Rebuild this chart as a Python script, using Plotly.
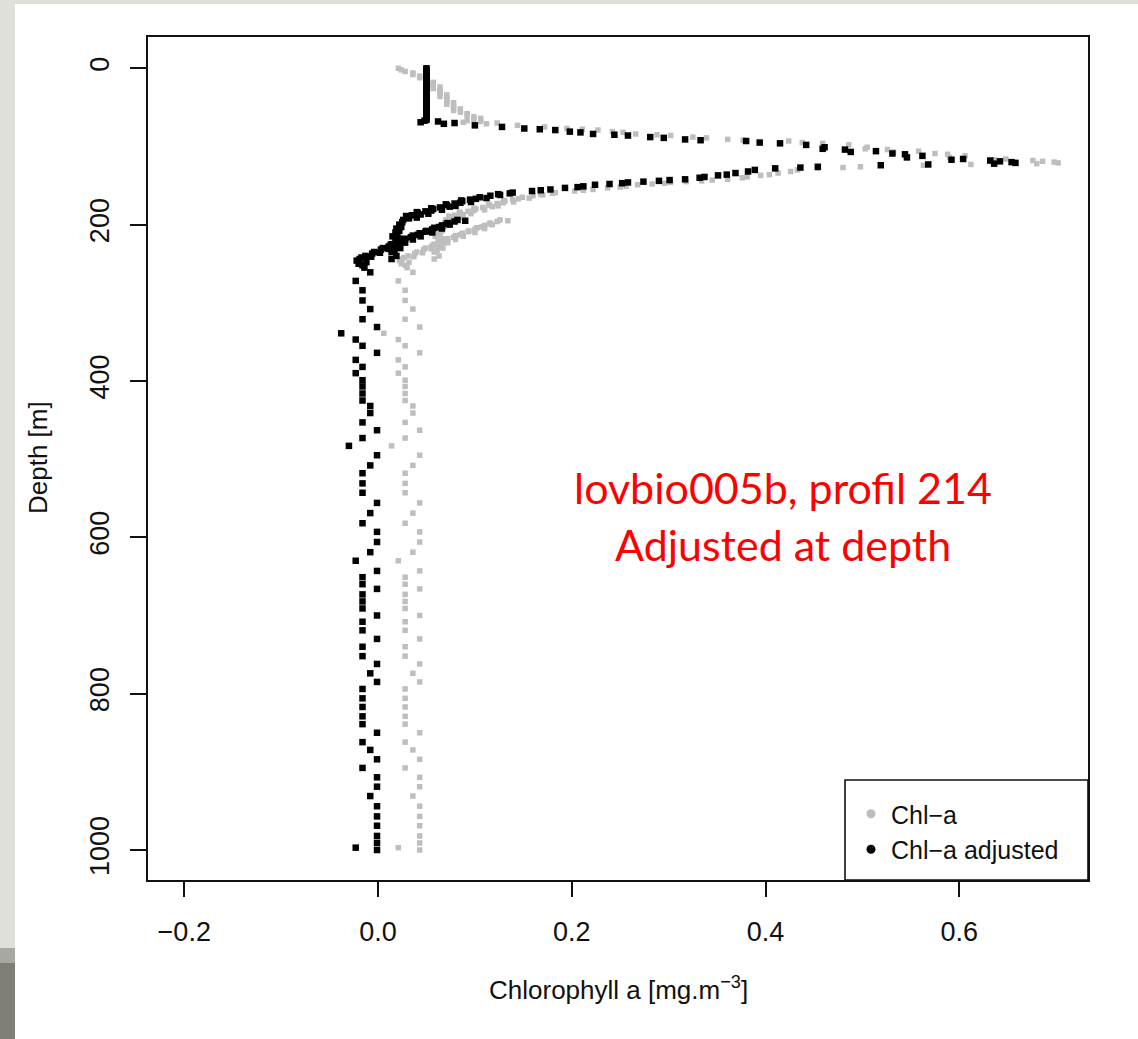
import plotly.graph_objects as go

# ---- Float lovbio005b, profile 214: Chl-a (raw) and Chl-a adjusted at depth ----
# Mixed layer (0-69 m)
depth_mixed = [0, 2, 4, 6, 8, 10, 12, 14, 16, 18, 20, 22, 24, 26, 28, 30, 32, 34, 36, 38,
               40, 42, 44, 46, 48, 50, 52, 54, 56, 58, 60, 62, 64, 66, 67, 68, 69]
chla_mixed = [0.021, 0.024, 0.028, 0.036, 0.036, 0.043, 0.043, 0.050, 0.050, 0.057,
              0.057, 0.057, 0.064, 0.057, 0.064, 0.064, 0.064, 0.071, 0.064, 0.071,
              0.071, 0.071, 0.078, 0.071, 0.078, 0.078, 0.085, 0.078, 0.085, 0.092,
              0.092, 0.099, 0.106, 0.099, 0.092, 0.106, 0.088]
adj_mixed = [0.050, 0.050, 0.050, 0.050, 0.050, 0.050, 0.050, 0.050, 0.050, 0.050,
             0.050, 0.050, 0.050, 0.050, 0.050, 0.050, 0.050, 0.050, 0.050, 0.050,
             0.050, 0.050, 0.050, 0.050, 0.050, 0.050, 0.050, 0.050, 0.050, 0.050,
             0.050, 0.050, 0.050, 0.050, 0.048, 0.062, 0.044]

# Deep chlorophyll maximum (70-163 m)
depth_dcm = [70, 71, 73, 75, 77, 78, 79, 81, 82, 84, 85, 86, 88, 89, 91, 92, 93, 95, 96, 98,
             101, 103, 104, 106, 107, 109, 110, 112, 114, 116, 117, 118, 119, 120, 121, 122,
             123, 124, 126, 127, 128, 130, 132, 134, 136, 137, 139, 140, 142, 143, 144, 145,
             146, 147, 148, 149, 151, 152, 153, 155, 156, 157, 159, 160, 161, 162, 163]
chla_dcm = [0.123, 0.112, 0.144, 0.172, 0.195, 0.211, 0.227, 0.242, 0.253, 0.266,
            0.288, 0.302, 0.325, 0.339, 0.361, 0.377, 0.424, 0.438, 0.459, 0.486,
            0.505, 0.503, 0.526, 0.558, 0.532, 0.575, 0.588, 0.606, 0.590, 0.648,
            0.636, 0.676, 0.686, 0.698, 0.702, 0.680, 0.612, 0.563, 0.498, 0.480,
            0.454, 0.433, 0.426, 0.413, 0.404, 0.395, 0.381, 0.376, 0.361, 0.345,
            0.334, 0.318, 0.302, 0.296, 0.283, 0.268, 0.256, 0.250, 0.237, 0.222,
            0.212, 0.203, 0.183, 0.180, 0.168, 0.170, 0.160]
adj_dcm = [0.079, 0.068, 0.100, 0.128, 0.151, 0.167, 0.183, 0.198, 0.209, 0.222,
           0.244, 0.258, 0.281, 0.295, 0.317, 0.333, 0.380, 0.394, 0.415, 0.442,
           0.461, 0.459, 0.482, 0.514, 0.488, 0.531, 0.544, 0.562, 0.546, 0.604,
           0.592, 0.632, 0.642, 0.654, 0.658, 0.636, 0.568, 0.519, 0.454, 0.436,
           0.410, 0.389, 0.382, 0.369, 0.360, 0.351, 0.337, 0.332, 0.317, 0.301,
           0.290, 0.274, 0.258, 0.252, 0.239, 0.224, 0.212, 0.206, 0.193, 0.178,
           0.168, 0.159, 0.139, 0.136, 0.124, 0.126, 0.116]

# Lower flank, first set of samples (165-244 m)
depth_flank_a = [165, 166, 167, 168, 169, 170, 171, 172, 173, 174, 175, 176, 177, 178, 179,
                 180, 181, 182, 183, 184, 185, 186, 187, 188, 189, 190, 191, 192, 194, 197,
                 200, 203, 205, 208, 210, 213, 215, 218, 220, 223, 225, 228, 230, 233, 235,
                 240, 244]
chla_flank_a = [0.149, 0.156, 0.145, 0.139, 0.130, 0.131, 0.140, 0.129, 0.123, 0.114,
                0.115, 0.124, 0.118, 0.108, 0.099, 0.101, 0.110, 0.099, 0.093, 0.084,
                0.085, 0.096, 0.088, 0.079, 0.073, 0.074, 0.084, 0.076, 0.070, 0.069,
                0.066, 0.068, 0.063, 0.066, 0.062, 0.064, 0.059, 0.066, 0.062, 0.069,
                0.058, 0.064, 0.067, 0.061, 0.058, 0.063, 0.058]
adj_flank_a = [0.105, 0.112, 0.101, 0.095, 0.086, 0.087, 0.096, 0.085, 0.079, 0.070,
               0.071, 0.080, 0.074, 0.064, 0.055, 0.057, 0.066, 0.055, 0.049, 0.040,
               0.041, 0.052, 0.044, 0.035, 0.029, 0.030, 0.040, 0.032, 0.026, 0.025,
               0.022, 0.024, 0.019, 0.022, 0.018, 0.020, 0.015, 0.022, 0.018, 0.025,
               0.014, 0.020, 0.023, 0.017, 0.014, 0.019, 0.014]

# Lower flank, second set of samples (194-255 m)
depth_flank_b = [194, 195, 196, 198, 199, 200, 201, 203, 204, 205, 206, 208, 209, 210, 211,
                 213, 214, 215, 216, 218, 219, 220, 222, 223, 224, 226, 227, 228, 230, 231,
                 232, 235, 236, 237, 240, 241, 242, 244, 246, 248, 250, 252, 255]
chla_flank_b = [0.126, 0.134, 0.123, 0.116, 0.115, 0.118, 0.110, 0.107, 0.102, 0.110,
                0.100, 0.094, 0.093, 0.100, 0.087, 0.085, 0.080, 0.088, 0.078, 0.072,
                0.080, 0.071, 0.065, 0.072, 0.063, 0.057, 0.062, 0.055, 0.049, 0.055,
                0.047, 0.040, 0.046, 0.038, 0.031, 0.037, 0.027, 0.025, 0.022, 0.032,
                0.024, 0.028, 0.030]
adj_flank_b = [0.082, 0.090, 0.079, 0.072, 0.071, 0.074, 0.066, 0.063, 0.058, 0.066,
               0.056, 0.050, 0.049, 0.056, 0.043, 0.041, 0.036, 0.044, 0.034, 0.028,
               0.036, 0.027, 0.021, 0.028, 0.019, 0.013, 0.018, 0.011, 0.005, 0.011,
               0.003, -0.004, 0.002, -0.006, -0.013, -0.007, -0.017, -0.019, -0.022, -0.012,
               -0.020, -0.016, -0.014]

# Deep water (261-1000 m)
depth_deep = [261, 272, 284, 297, 308, 321, 331, 339, 347, 355, 364, 373, 382, 390, 399,
              407, 416, 425, 432, 441, 453, 463, 473, 483, 495, 508, 518, 531, 543, 556,
              569, 582, 593, 606, 619, 630, 643, 651, 660, 666, 673, 682, 691, 700, 708,
              719, 730, 740, 752, 762, 774, 785, 794, 806, 817, 829, 839, 850, 862, 872,
              884, 895, 907, 919, 931, 944, 957, 969, 982, 991, 997, 1000]
chla_deep = [0.036, 0.021, 0.028, 0.028, 0.036, 0.028, 0.043, 0.006, 0.021, 0.028,
             0.043, 0.021, 0.028, 0.021, 0.028, 0.028, 0.028, 0.028, 0.036, 0.036,
             0.028, 0.043, 0.028, 0.014, 0.043, 0.036, 0.028, 0.028, 0.028, 0.043,
             0.036, 0.028, 0.043, 0.043, 0.036, 0.021, 0.043, 0.028, 0.028, 0.043,
             0.028, 0.028, 0.028, 0.043, 0.028, 0.028, 0.043, 0.028, 0.028, 0.043,
             0.036, 0.043, 0.028, 0.028, 0.028, 0.028, 0.028, 0.043, 0.028, 0.036,
             0.043, 0.028, 0.043, 0.043, 0.036, 0.043, 0.043, 0.043, 0.043, 0.043,
             0.021, 0.043]
adj_deep = [-0.008, -0.023, -0.016, -0.016, -0.008, -0.016, -0.001, -0.038, -0.023, -0.016,
            -0.001, -0.023, -0.016, -0.023, -0.016, -0.016, -0.016, -0.016, -0.008, -0.008,
            -0.016, -0.001, -0.016, -0.030, -0.001, -0.008, -0.016, -0.016, -0.016, -0.001,
            -0.008, -0.016, -0.001, -0.001, -0.008, -0.023, -0.001, -0.016, -0.016, -0.001,
            -0.016, -0.016, -0.016, -0.001, -0.016, -0.016, -0.001, -0.016, -0.016, -0.001,
            -0.008, -0.001, -0.016, -0.016, -0.016, -0.016, -0.016, -0.001, -0.016, -0.008,
            -0.001, -0.016, -0.001, -0.001, -0.008, -0.001, -0.001, -0.001, -0.001, -0.001,
            -0.023, -0.001]

x_tick_vals = [-0.2, 0.0, 0.2, 0.4, 0.6]
x_tick_text = ["\u22120.2", "0.0", "0.2", "0.4", "0.6"]
y_tick_vals = [0, 200, 400, 600, 800, 1000]
y_tick_text = ["0", "200", "400", "600", "800", "1000"]
series_names = ["Chl\u2212a", "Chl\u2212a adjusted"]
profile_label = ["lovbio005b, profil 214", "Adjusted at depth"]

depth = depth_mixed + depth_dcm + depth_flank_a + depth_flank_b + depth_deep
chla = chla_mixed + chla_dcm + chla_flank_a + chla_flank_b + chla_deep
chla_adj = adj_mixed + adj_dcm + adj_flank_a + adj_flank_b + adj_deep

# ---- page geometry (pixels) ----
W, H = 1138, 1039
PL, PR, PT, PB = 148, 1088, 37, 880     # plot box edges
TEXT = "#111111"
FONT = "Liberation Sans, Arial, sans-serif"


def px(xp, yp):
    """Convert page pixels to paper coordinates."""
    return (xp - PL) / (PR - PL), (PB - yp) / (PB - PT)


fig = go.Figure()
fig.add_trace(go.Scatter(
    x=chla, y=depth, mode="markers", showlegend=False, hoverinfo="skip",
    marker=dict(symbol="square", size=5.5, color="#bebebe", line=dict(width=0)),
))
fig.add_trace(go.Scatter(
    x=chla_adj, y=depth, mode="markers", showlegend=False, hoverinfo="skip",
    marker=dict(symbol="square", size=6.5, color="#000000", line=dict(width=0)),
))
# legend keys (round dots)
fig.add_trace(go.Scatter(x=[None], y=[None], mode="markers", name=series_names[0],
                         marker=dict(symbol="circle", size=9, color="#bebebe")))
fig.add_trace(go.Scatter(x=[None], y=[None], mode="markers", name=series_names[1],
                         marker=dict(symbol="circle", size=9, color="#000000")))

shapes = []
# slide background strips around the figure
for (x0, y0, x1, y1, col) in [
    (0, 0, W, 4, "#e0e0da"),
    (0, 0, 15, 948, "#e0e0da"),
    (0, 948, 15, 963, "#a8a8a2"),
    (0, 963, 15, H, "#7e7e76"),
]:
    a0, b0 = px(x0, y1)
    a1, b1 = px(x1, y0)
    shapes.append(dict(type="rect", xref="paper", yref="paper", x0=a0, y0=b0, x1=a1, y1=b1,
                       fillcolor=col, line=dict(width=0), layer="below"))
# legend frame
lx0, ly0 = px(845, 880)
lx1, ly1 = px(1088, 780)
shapes.append(dict(type="rect", xref="paper", yref="paper", x0=lx0, y0=ly0, x1=lx1, y1=ly1,
                   line=dict(color=TEXT, width=1.6), fillcolor="rgba(0,0,0,0)"))

annotations = []
ax_x, ax_y = px(618, 988)
annotations.append(dict(xref="paper", yref="paper", x=ax_x, y=ax_y, showarrow=False,
                        text="Chlorophyll a [mg.m<sup>\u22123</sup>]",
                        font=dict(family=FONT, size=26, color=TEXT),
                        xanchor="center", yanchor="middle"))
ay_x, ay_y = px(38, 458)
annotations.append(dict(xref="paper", yref="paper", x=ay_x, y=ay_y, showarrow=False,
                        text="Depth [m]", textangle=-90,
                        font=dict(family=FONT, size=26, color=TEXT),
                        xanchor="center", yanchor="middle"))
for line, ypix in zip(profile_label, [488, 544]):
    tx, ty = px(783, ypix)
    annotations.append(dict(xref="paper", yref="paper", x=tx, y=ty, showarrow=False,
                            text=line, font=dict(family="Lato, sans-serif", size=43, color="#ff0000"),
                            xanchor="center", yanchor="middle"))

x_lo = (PL - 378) / 968.75
x_hi = (PR - 378) / 968.75
y_top = (PT - 68.3) / 0.7817
y_bot = (PB - 68.3) / 0.7817

leg_x, leg_y = px(851, 791)
fig.update_layout(
    width=W, height=H,
    margin=dict(l=PL, r=W - PR, t=PT, b=H - PB, pad=0),
    paper_bgcolor="white", plot_bgcolor="white",
    font=dict(family=FONT, size=26, color=TEXT),
    shapes=shapes, annotations=annotations,
    legend=dict(x=leg_x, y=leg_y, xanchor="left", yanchor="top",
                bgcolor="rgba(0,0,0,0)", borderwidth=0,
                font=dict(family=FONT, size=25, color=TEXT),
                itemsizing="trace", tracegroupgap=0),
    xaxis=dict(range=[x_lo, x_hi], tickvals=x_tick_vals, ticktext=x_tick_text,
               ticks="outside", ticklen=15, tickwidth=1.6, tickcolor=TEXT,
               showline=True, linecolor=TEXT, linewidth=2, mirror=True,
               showgrid=False, zeroline=False, ticklabelstandoff=12,
               tickfont=dict(family=FONT, size=27, color=TEXT)),
    yaxis=dict(range=[y_bot, y_top], tickvals=y_tick_vals, ticktext=y_tick_text,
               ticks="outside", ticklen=16, tickwidth=1.6, tickcolor=TEXT,
               showline=True, linecolor=TEXT, linewidth=2, mirror=True,
               showgrid=False, zeroline=False, tickangle=-90, ticklabelstandoff=10,
               tickfont=dict(family=FONT, size=27, color=TEXT)),
)

fig.write_html("out.html")
